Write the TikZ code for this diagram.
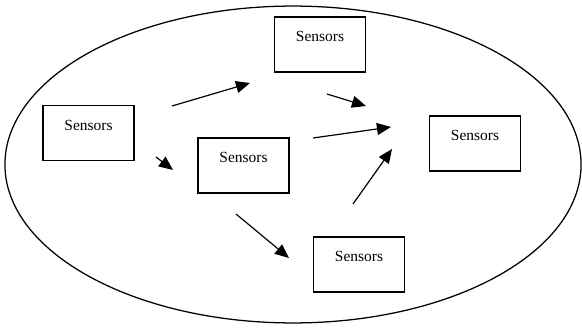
\documentclass[tikz,border=0pt]{standalone}
\usepackage{fontspec}
\setmainfont{Liberation Serif}
\usepackage{tikz}
\usetikzlibrary{arrows.meta}

\begin{document}
\begin{tikzpicture}[x=0.025cm, y=-0.025cm,
  sensorbox/.style={draw, line width=0.9pt, rectangle, inner sep=0pt,
    minimum width=2.275cm, minimum height=1.375cm,
    text height=8pt, text depth=12pt, font=\fontsize{11}{13}\selectfont},
  flow/.style={line width=0.85pt, -{Triangle[length=10pt, width=8.5pt]}}]
\useasboundingbox (0, 0) rectangle (582, 327);

\draw[line width=0.9pt] (293, 164.5) ellipse [x radius=7.2cm, y radius=3.96cm];

\node[sensorbox] (left) at (88.5, 133) {Sensors};
\node[sensorbox] (top) at (320, 44.5) {Sensors};
\node[sensorbox] (mid) at (243.5, 165.5) {Sensors};
\node[sensorbox] (right) at (475, 143.5) {Sensors};
\node[sensorbox] (low) at (359, 264.5) {Sensors};

% free standing arrows
\coordinate (ls) at (172, 106);  \coordinate (le) at (250, 83);
\coordinate (ts) at (327, 94);   \coordinate (te) at (366, 106);
\coordinate (ms) at (313, 138);  \coordinate (me) at (391, 127);
\coordinate (ws) at (353, 204);  \coordinate (we) at (392, 149);
\coordinate (ds) at (236, 214);  \coordinate (de) at (289, 258);
\coordinate (ks) at (156, 157);  \coordinate (ke) at (173, 170);

\draw[flow] (ls) -- (le);
\draw[flow] (ts) -- (te);
\draw[flow] (ms) -- (me);
\draw[flow] (ws) -- (we);
\draw[flow] (ds) -- (de);
\draw[flow] (ks) -- (ke);
\end{tikzpicture}
\end{document}
